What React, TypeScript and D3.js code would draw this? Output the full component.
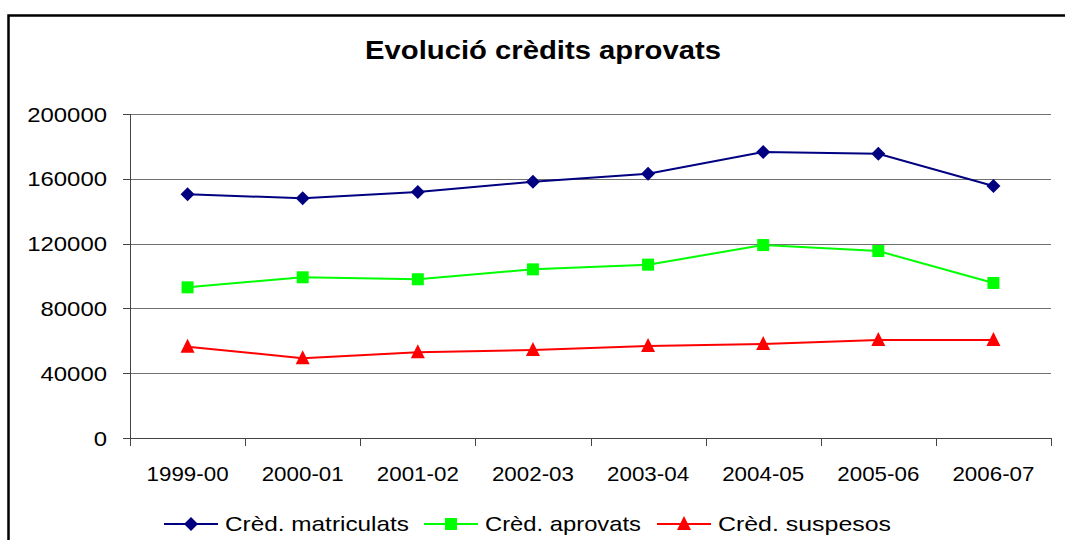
import React from "react";
import * as d3 from "d3";

const categories = ["1999-00", "2000-01", "2001-02", "2002-03", "2003-04", "2004-05", "2005-06", "2006-07"];
const matriculats = [150400, 148000, 151900, 158200, 163100, 176500, 175500, 155600];
const aprovats = [93000, 99200, 98000, 104100, 107000, 119100, 115400, 95700];
const suspesos = [56400, 49200, 52900, 54300, 56800, 58000, 60500, 60500];
const yTicks = [0, 40000, 80000, 120000, 160000, 200000];
const seriesNames = ["Crèd. matriculats", "Crèd. aprovats", "Crèd. suspesos"];
const title = "Evolució crèdits aprovats";

const W = 1065;
const H = 540;
const FONT = "'Liberation Sans', Arial, sans-serif";

const series = [
  { name: seriesNames[0], values: matriculats, color: "#000080", marker: "diamond" },
  { name: seriesNames[1], values: aprovats, color: "#00FF00", marker: "square" },
  { name: seriesNames[2], values: suspesos, color: "#FF0000", marker: "triangle" },
];

function Marker({ type, x, y, color }: { type: string; x: number; y: number; color: string }) {
  if (type === "diamond") {
    const s = 7;
    return <path d={`M${x},${y - s}L${x + s},${y}L${x},${y + s}L${x - s},${y}Z`} fill={color} />;
  }
  if (type === "square") {
    const s = 6;
    return <rect x={x - s} y={y - s} width={2 * s} height={2 * s} fill={color} />;
  }
  const s = 7;
  return <path d={`M${x},${y - s - 1}L${x + s},${y + s - 1}L${x - s},${y + s - 1}Z`} fill={color} />;
}

export default function App() {
  const x = d3.scaleBand<string>().domain(categories).range([130, 1051]);
  const y = d3.scaleLinear().domain([0, 200000]).range([438, 114]);
  const cx = (c: string) => (x(c) as number) + x.bandwidth() / 2;
  const line = d3
    .line<number>()
    .x((_, i) => cx(categories[i]))
    .y((v) => y(v));

  const xEdges = categories.map((c) => x(c) as number).concat([x.range()[1]]);

  const legendItems = [
    { lineX: 164, textX: 225, textW: 184 },
    { lineX: 424, textX: 485, textW: 156 },
    { lineX: 657, textX: 718, textW: 173 },
  ];

  return (
    <svg
      width={W}
      height={H}
      style={{ position: "fixed", left: 0, top: 0, background: "#fff" }}
      fontFamily={FONT}
    >
      <rect x={0} y={0} width={W} height={H} fill="#fff" />
      <rect x={8.5} y={15.5} width={1200} height={700} fill="none" stroke="#000" strokeWidth={2.5} />
      <text
        x={543}
        y={59}
        textAnchor="middle"
        fontSize={25}
        fontWeight="bold"
        textLength={356}
        lengthAdjust="spacingAndGlyphs"
      >
        {title}
      </text>

      {/* gridlines */}
      {yTicks.filter((t) => t > 0).map((t) => (
        <line key={t} x1={130} x2={1051} y1={Math.round(y(t)) + 0.5} y2={Math.round(y(t)) + 0.5} stroke="#707070" strokeWidth={1} />
      ))}
      {/* y axis */}
      <line x1={130.5} x2={130.5} y1={114} y2={439} stroke="#444" strokeWidth={1} />
      {yTicks.map((t) => (
        <g key={t}>
          <line x1={123} x2={130} y1={Math.round(y(t)) + 0.5} y2={Math.round(y(t)) + 0.5} stroke="#444" />
          <text
            x={107}
            y={y(t) + 7.5}
            textAnchor="end"
            fontSize={21}
            textLength={String(t).length * 13.3}
            lengthAdjust="spacingAndGlyphs"
          >
            {t}
          </text>
        </g>
      ))}
      {/* x axis */}
      <line x1={130} x2={1051} y1={438.5} y2={438.5} stroke="#444" strokeWidth={1} />
      {xEdges.map((e, i) => (
        <line key={i} x1={Math.round(e) + 0.5} x2={Math.round(e) + 0.5} y1={438} y2={446} stroke="#444" />
      ))}
      {categories.map((c) => (
        <text
          key={c}
          x={cx(c)}
          y={481}
          textAnchor="middle"
          fontSize={21}
          textLength={82}
          lengthAdjust="spacingAndGlyphs"
        >
          {c}
        </text>
      ))}

      {/* series */}
      {series.map((s) => (
        <g key={s.name}>
          <path d={line(s.values) as string} fill="none" stroke={s.color} strokeWidth={2} />
          {s.values.map((v, i) => (
            <Marker key={i} type={s.marker} x={cx(categories[i])} y={y(v)} color={s.color} />
          ))}
        </g>
      ))}

      {/* legend */}
      {series.map((s, i) => {
        const it = legendItems[i];
        return (
          <g key={s.name}>
            <line x1={it.lineX} x2={it.lineX + 54} y1={524} y2={524} stroke={s.color} strokeWidth={2} />
            <Marker type={s.marker} x={it.lineX + 27} y={524} color={s.color} />
            <text x={it.textX} y={531} fontSize={21} textLength={it.textW} lengthAdjust="spacingAndGlyphs">
              {s.name}
            </text>
          </g>
        );
      })}
    </svg>
  );
}
